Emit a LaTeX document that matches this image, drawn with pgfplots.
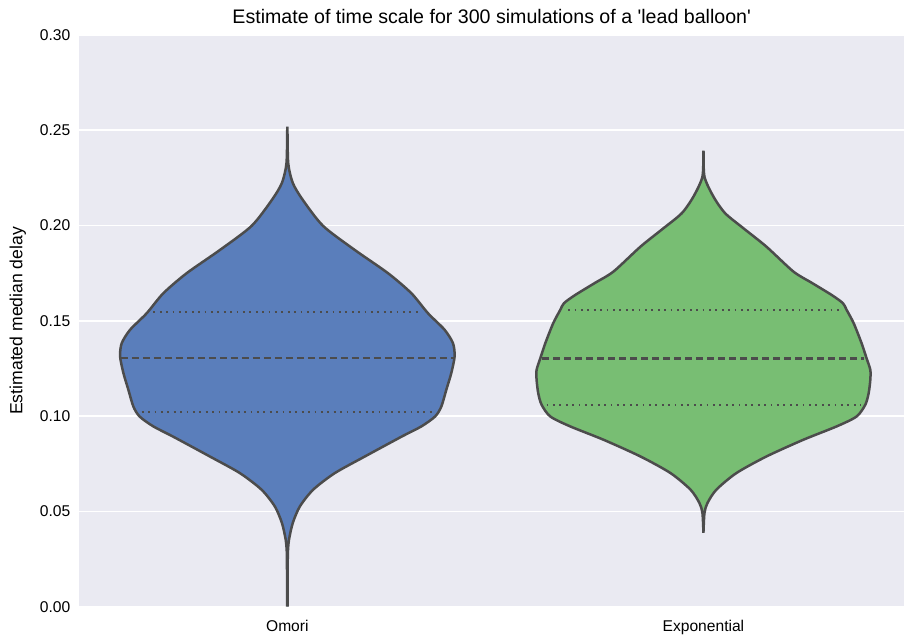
\documentclass[border=0pt]{standalone}
\usepackage{fontspec}
\setmainfont{Liberation Sans}
\usepackage{pgfplots}
\pgfplotsset{compat=1.18}

\definecolor{bgcol}{HTML}{EAEAF2}
\definecolor{edgecol}{HTML}{4C4C4C}
\definecolor{omoricol}{HTML}{5A7EBB}
\definecolor{expcol}{HTML}{78BE73}

\begin{document}
\begin{tikzpicture}
\begin{axis}[
  at={(0,0)}, anchor=south west,
  scale only axis, width=412.35pt, height=285.85pt,
  xmin=-0.5, xmax=1.482, ymin=0, ymax=0.30,
  axis background/.style={fill=bgcol},
  axis line style={draw=none},
  ymajorgrids, major grid style={white, line width=0.9pt},
  major tick length=0pt,
  xtick={0,1}, xticklabels={Omori,Exponential},
  xticklabel style={yshift=-3pt},
  ytick={0,0.05,0.1,0.15,0.2,0.25,0.3},
  scaled y ticks=false,
  yticklabel style={xshift=-1pt, /pgf/number format/.cd, fixed, fixed zerofill, precision=2, assume math mode=true},
  ticklabel style={font=\fontsize{7.8}{9}\selectfont},
  ylabel={Estimated median delay},
  ylabel style={font=\fontsize{8.8}{10}\selectfont},
  title={Estimate of time scale for 300 simulations of a \textquotesingle lead balloon\textquotesingle},
  title style={font=\fontsize{9.8}{11}\selectfont, yshift=-4pt},
  violin/.style={draw=edgecol, line width=1.25pt, smooth, tension=0.45},
]
% Omori violin: left edge upwards, right edge downwards
\addplot[violin, fill=omoricol] coordinates {
(-0.0008,0.0000) (-0.0008,0.0150) (-0.0012,0.0280) (-0.0040,0.0352)
(-0.0130,0.0439)
(-0.0300,0.0526) (-0.0620,0.0614) (-0.1140,0.0701) (-0.1860,0.0788)
(-0.2750,0.0893) (-0.3220,0.0946) (-0.3550,0.0998) (-0.3700,0.1050)
(-0.3820,0.1138) (-0.3940,0.1226) (-0.4020,0.1314) (-0.3980,0.1383)
(-0.3780,0.1453) (-0.3380,0.1540) (-0.2980,0.1645) (-0.2420,0.1750)
(-0.1620,0.1872) (-0.0860,0.1998) (-0.0370,0.2135) (-0.0130,0.2224)
(-0.0020,0.2329) (0.0000,0.2519)
(0.0020,0.2329) (0.0130,0.2224) (0.0370,0.2135) (0.0860,0.1998)
(0.1620,0.1872) (0.2420,0.1750) (0.2980,0.1645) (0.3380,0.1540)
(0.3780,0.1453) (0.3980,0.1383) (0.4020,0.1314) (0.3940,0.1226)
(0.3820,0.1138) (0.3700,0.1050) (0.3550,0.0998) (0.3220,0.0946)
(0.2750,0.0893) (0.1860,0.0788) (0.1140,0.0701) (0.0620,0.0614)
(0.0300,0.0526) (0.0130,0.0439) (0.0040,0.0352) (0.0012,0.0280)
(0.0008,0.0150) (0.0008,0.0000)
};

% Exponential violin
\addplot[violin, fill=expcol] coordinates {
(1.0000,0.0387) (0.9976,0.0491) (0.9904,0.0544) (0.9690,0.0614)
(0.9210,0.0701) (0.8490,0.0788) (0.7600,0.0876) (0.6800,0.0946)
(0.6320,0.0998) (0.6110,0.1060) (0.6030,0.1120) (0.5990,0.1190)
(0.5990,0.1243) (0.6080,0.1304) (0.6200,0.1383) (0.6390,0.1488)
(0.6560,0.1558) (0.6650,0.1593) (0.6920,0.1636) (0.7400,0.1700)
(0.7840,0.1759) (0.8490,0.1890) (0.9040,0.1986) (0.9480,0.2065)
(0.9760,0.2152) (0.9976,0.2257) (1.0000,0.2393)
(1.0024,0.2257) (1.0240,0.2152) (1.0520,0.2065) (1.0960,0.1986)
(1.1510,0.1890) (1.2160,0.1759) (1.2600,0.1700) (1.3080,0.1636)
(1.3350,0.1593) (1.3440,0.1558) (1.3610,0.1488) (1.3800,0.1383)
(1.3920,0.1304) (1.4010,0.1243) (1.4010,0.1190) (1.3970,0.1120)
(1.3890,0.1060) (1.3680,0.0998) (1.3200,0.0946) (1.2400,0.0876)
(1.1510,0.0788) (1.0790,0.0701) (1.0310,0.0614) (1.0096,0.0544)
(1.0024,0.0491) (1.0000,0.0387)
};

% quartiles
\addplot[edgecol, line width=1.3pt, dash pattern=on 3.3pt off 2.2pt] coordinates {(-0.400,0.1305) (0.398,0.1305)};
\addplot[edgecol, line width=1pt, dash pattern=on 0.9pt off 2.3pt] coordinates {(-0.322,0.1547) (0.322,0.1547)};
\addplot[edgecol, line width=1pt, dash pattern=on 0.9pt off 2.3pt] coordinates {(-0.350,0.1024) (0.350,0.1024)};

\addplot[edgecol, line width=1.3pt, dash pattern=on 3.3pt off 2.2pt] coordinates {(0.613,0.1304) (1.387,0.1304)};
\addplot[edgecol, line width=1pt, dash pattern=on 0.9pt off 2.3pt] coordinates {(0.675,0.1558) (1.325,0.1558)};
\addplot[edgecol, line width=1pt, dash pattern=on 0.9pt off 2.3pt] coordinates {(0.623,0.1059) (1.377,0.1059)};
\end{axis}
\pgfresetboundingbox
\path[use as bounding box] (-39.65pt,-15.65pt) rectangle (412.35pt,303.35pt);
\end{tikzpicture}
\end{document}
